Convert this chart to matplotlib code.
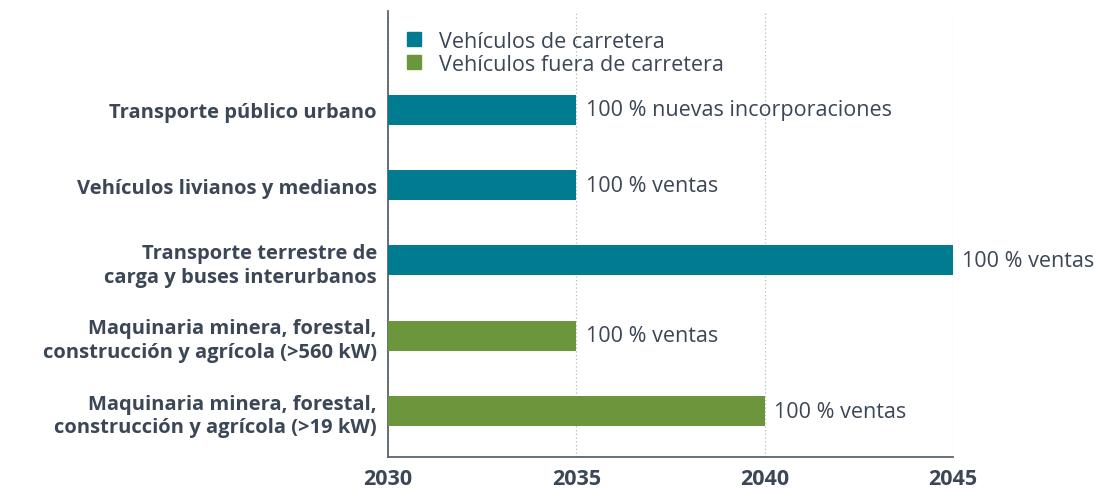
import matplotlib.pyplot as plt
from matplotlib.patches import Patch

categorias = ["Transporte público urbano",
              "Vehículos livianos y medianos",
              "Transporte terrestre de\ncarga y buses interurbanos",
              "Maquinaria minera, forestal,\nconstrucción y agrícola (>560 kW)",
              "Maquinaria minera, forestal,\nconstrucción y agrícola (>19 kW)"]
anios = [2035, 2035, 2045, 2035, 2040]
etiquetas = ["100 % nuevas incorporaciones", "100 % ventas", "100 % ventas",
             "100 % ventas", "100 % ventas"]
tipo = ["carretera", "carretera", "carretera", "fuera", "fuera"]
ticks = [2030, 2035, 2040, 2045]

azul = "#007b8f"
verde = "#6b963b"
gris = "#3b4656"
colores = {"carretera": azul, "fuera": verde}

plt.rcParams['font.family'] = ['Open Sans', 'DejaVu Sans']

fig = plt.figure(figsize=(10.99, 4.89), dpi=100)
ax = fig.add_axes([388/1099, 31/489, (953-388)/1099, (458-12)/489])

pos = [4, 3, 2, 1, 0]
inicio = 2030
for y, a, t, e in zip(pos, anios, tipo, etiquetas):
    ax.barh(y, a - inicio, left=inicio, height=0.4, color=colores[t], zorder=3)
    ax.text(a + 0.25, y, e, va="center", ha="left", fontsize=15.5, color=gris)

ax.set_xlim(2030, 2045)
ax.set_ylim(-0.61, 5.31)
ax.set_xticks(ticks)
ax.set_xticklabels([str(t) for t in ticks], fontsize=15.5, fontweight="bold", color=gris)
ax.set_yticks(pos)
ax.set_yticklabels(categorias, fontsize=14.5, fontweight="bold", color=gris, linespacing=1.25)
ax.tick_params(length=0, pad=8)
ax.tick_params(axis="x", pad=8)
ax.grid(axis="x", color="#bbbbbb", linestyle=(0, (1, 2)), linewidth=0.9, zorder=0)
for s in ["top", "right"]:
    ax.spines[s].set_visible(False)
for s in ["left", "bottom"]:
    ax.spines[s].set_color("#5a6470")
    ax.spines[s].set_linewidth(1.3)

handles = [Patch(color=azul, label="Vehículos de carretera"),
           Patch(color=verde, label="Vehículos fuera de carretera")]
leg = ax.legend(handles=handles, loc="upper left", frameon=False, fontsize=15.5,
                handlelength=0.65, handleheight=0.65, handletextpad=0.85,
                labelspacing=0.1, borderaxespad=0.2, bbox_to_anchor=(0.01, 0.985))
for t in leg.get_texts():
    t.set_color(gris)

fig.savefig("out.png", dpi=100)
